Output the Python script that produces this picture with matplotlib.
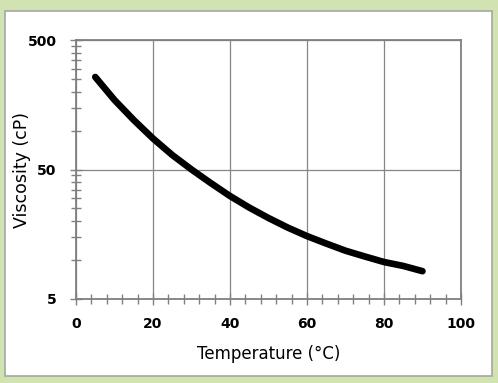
import matplotlib.pyplot as plt
from matplotlib.patches import Rectangle
from matplotlib.ticker import MultipleLocator, FixedLocator, NullFormatter

# viscosity vs temperature
temperature = [5, 10, 15, 20, 25, 30, 35, 40, 45, 50, 55, 60, 65, 70, 75, 80, 85, 90]
viscosity = [259, 172, 120.5, 86.8, 64.7, 50, 39.3, 31.2, 25.4, 21.1, 17.8, 15.3, 13.4, 11.8, 10.65, 9.65, 9.0, 8.2]

y_major = [5, 50, 500]
y_minor = [5 * k for k in range(2, 10)] + [50 * k for k in range(2, 10)]

fig = plt.figure(figsize=(4.98, 3.83), dpi=100)
fig.patch.set_facecolor('#d0e3b0')

# white panel with grey border
panel = Rectangle((5 / 498, 1 - 376 / 383), 487 / 498, 365 / 383, transform=fig.transFigure,
                  facecolor='white', edgecolor='#a6a6a6', linewidth=1.2, zorder=-1)
fig.patches.append(panel)

ax = fig.add_axes([76 / 498, 1 - 299 / 383, 385 / 498, 259 / 383])
ax.set_zorder(1)
ax.set_facecolor('white')
ax.plot(temperature, viscosity, color='black', linewidth=4.8,
        solid_capstyle='round', solid_joinstyle='round')

ax.set_yscale('log')
ax.set_xlim(0, 100)
ax.set_ylim(5, 500)
ax.xaxis.set_major_locator(MultipleLocator(20))
ax.xaxis.set_minor_locator(MultipleLocator(4))
ax.yaxis.set_major_locator(FixedLocator(y_major))
ax.yaxis.set_major_formatter(plt.FuncFormatter(lambda v, p: f'{v:g}'))
ax.yaxis.set_minor_locator(FixedLocator(y_minor))
ax.yaxis.set_minor_formatter(NullFormatter())

ax.grid(True, which='major', color='#868686', linewidth=0.9)
for s in ax.spines.values():
    s.set_color('#808080')
    s.set_linewidth(1.3)

ax.tick_params(which='both', direction='inout', color='#808080')
ax.tick_params(which='major', length=8, width=1, labelsize=10)
ax.tick_params(which='minor', length=7, width=1)
ax.tick_params(axis='x', which='both', pad=9)
ax.tick_params(axis='y', which='both', pad=10)
for lab in ax.get_xticklabels() + ax.get_yticklabels():
    lab.set_fontweight('bold')

ax.set_xlabel('Temperature (°C)', fontsize=12)
ax.set_ylabel('Viscosity (cP)', fontsize=12.5)
ax.xaxis.set_label_coords(0.5, -0.212)
ax.yaxis.set_label_coords(-0.14, 0.5)
ax.xaxis.label.set_verticalalignment('center')
ax.yaxis.label.set_verticalalignment('center')

fig.savefig('out.png', dpi=100, facecolor=fig.get_facecolor())
